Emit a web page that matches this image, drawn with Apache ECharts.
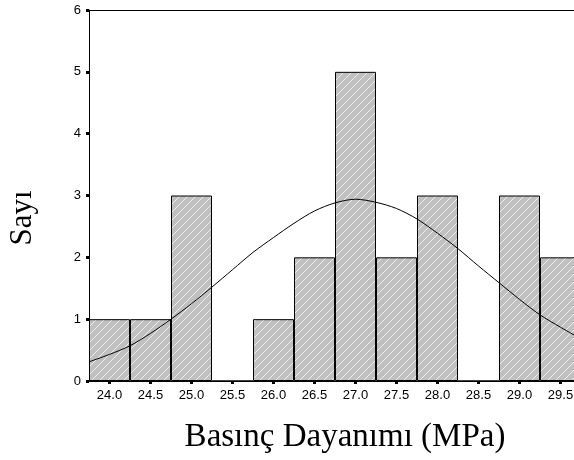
<!DOCTYPE html>
<html>
<head>
<meta charset="utf-8">
<script src="https://cdn.jsdelivr.net/npm/echarts@6/dist/echarts.min.js"></script>
<style>html,body{margin:0;padding:0;background:#fff;overflow:hidden;width:574px;height:460px;}#c{width:581px;height:460px;}</style>
</head>
<body>
<div id="c"></div>
<script>
// Bin centres (tick labels) and counts
const categories = ['24.0','24.5','25.0','25.5','26.0','26.5','27.0','27.5','28.0','28.5','29.0','29.5'];
const counts = [1, 1, 3, 0, 1, 2, 5, 2, 3, 0, 3, 2];
// Fitted normal curve
const curveX = [23.75,24.0,24.25,24.5,24.75,25.0,25.25,25.5,25.75,26.0,26.25,26.5,26.75,27.0,27.25,27.5,27.75,28.0,28.25,28.5,28.75,29.0,29.25,29.5,29.75];
const curveY = [0.31,0.43,0.57,0.77,1.0,1.25,1.52,1.8,2.08,2.32,2.55,2.75,2.88,2.94,2.89,2.79,2.62,2.39,2.14,1.86,1.59,1.32,1.07,0.87,0.68];
const yTickMax = 6;

const pc = document.createElement('canvas');
pc.width = 8; pc.height = 8;
const g = pc.getContext('2d');
g.fillStyle = '#c0c0c0'; g.fillRect(0,0,8,8);
g.strokeStyle = '#ededed'; g.lineWidth = 1;
g.beginPath();
g.moveTo(-1,9); g.lineTo(9,-1);
g.moveTo(-1,1); g.lineTo(1,-1);
g.moveTo(7,9); g.lineTo(9,7);
g.stroke();

const chart = echarts.init(document.getElementById('c'), null, {renderer:'canvas'});
chart.setOption({
  animation: false,
  backgroundColor: '#fff',
  grid: {left: 89, top: 10, bottom: 79, right: 0, containLabel: false},
  xAxis: [{
    type: 'category', data: categories, boundaryGap: true, position: 'bottom',
    axisLine: {show: true, lineStyle: {color: '#000', width: 1}},
    axisTick: {show: true, alignWithLabel: true, length: 3, inside: false, lineStyle: {color: '#000', width: 3}},
    axisLabel: {color: '#000', fontSize: 13, fontFamily: 'Liberation Sans, Arial', margin: 8},
    splitLine: {show: false}
  }, {
    type: 'value', min: 23.75, max: 29.75, position: 'top',
    axisLine: {show: true, onZero: false, lineStyle: {color: '#000', width: 1}},
    axisTick: {show: false}, axisLabel: {show: false}, splitLine: {show: false}
  }],
  yAxis: {
    type: 'value', min: 0, max: yTickMax, interval: 1,
    axisLine: {show: true, lineStyle: {color: '#000', width: 1}},
    axisTick: {show: true, length: 3, lineStyle: {color: '#000', width: 3}},
    axisLabel: {color: '#000', fontSize: 13, fontFamily: 'Liberation Sans, Arial', margin: 8},
    splitLine: {show: false}
  },
  series: [{
    type: 'bar', data: counts, xAxisIndex: 0, barWidth: '100%', barCategoryGap: '0%',
    itemStyle: {color: {image: pc, repeat: 'repeat'}, borderColor: '#000', borderWidth: 1},
    silent: true
  }, {
    type: 'line', xAxisIndex: 1, data: curveX.map((x,i)=>[x, curveY[i]]),
    showSymbol: false, smooth: 0.3, lineStyle: {color: '#000', width: 1}, silent: true, z: 5
  }],
  graphic: [{
    type: 'text', x: 345, y: 437,
    style: {text: 'Basınç Dayanımı (MPa)', font: '33px "Liberation Serif", "Times New Roman", serif', fill: '#000', align: 'center', verticalAlign: 'middle'}
  }, {
    type: 'text', x: 23, y: 218, rotation: Math.PI/2,
    style: {text: 'Sayı', font: '31px "Liberation Serif", "Times New Roman", serif', fill: '#000', align: 'center', verticalAlign: 'middle'}
  }]
});
</script>
</body>
</html>
